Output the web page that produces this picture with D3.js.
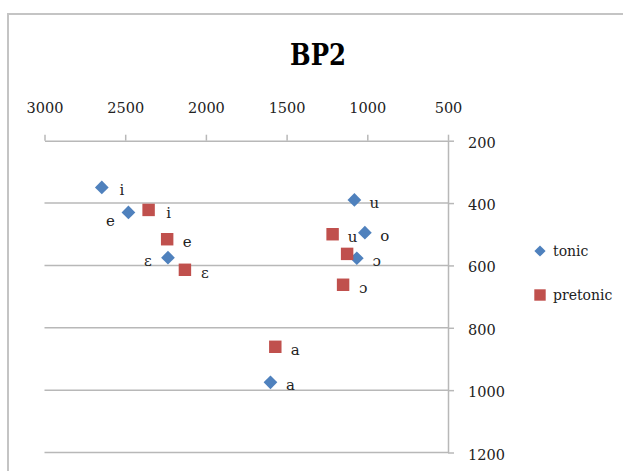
<!DOCTYPE html>
<html>
<head>
<meta charset="utf-8">
<script src="https://cdn.jsdelivr.net/npm/d3@7"></script>
<style>
  body { margin: 0; background: #fff; }
  svg { display: block; font-family: "DejaVu Serif", serif; }
</style>
</head>
<body>
<svg id="chart" width="623" height="471"></svg>
<script>
// vowel formants, F2 on x (reversed), F1 on y (reversed)
var vowels = ["i", "e", "ɛ", "u", "o", "ɔ", "a"];
var tonicF2 = [2645, 2480, 2235, 1080, 1015, 1065, 1600];
var tonicF1 = [350, 430, 575, 390, 495, 577, 975];
var pretonicF2 = [2355, 2240, 2130, 1215, 1125, 1150, 1570];
var pretonicF1 = [422, 516, 614, 500, 563, 662, 861];
// label text shown beside each pretonic point ("" = hidden by overlap)
var pretonicLabels = ["i", "e", "ɛ", "u", "", "ɔ", "a"];
var xTicks = [3000, 2500, 2000, 1500, 1000, 500];
var yTicks = [200, 400, 600, 800, 1000, 1200];
var seriesNames = ["tonic", "pretonic"];

var blue = "#4f81bd", red = "#c0504d", grid = "#b8b8b8";

var svg = d3.select("#chart");

// outer chart border
svg.append("rect")
  .attr("x", 8).attr("y", 14)
  .attr("width", 640).attr("height", 480)
  .attr("fill", "none")
  .attr("stroke", "#c4c4c4")
  .attr("stroke-width", 2);

svg.append("text")
  .attr("x", 318).attr("y", 65)
  .attr("text-anchor", "middle")
  .attr("font-size", 29)
  .attr("font-weight", "bold")
  .attr("textLength", 56)
  .attr("lengthAdjust", "spacingAndGlyphs")
  .text("BP2");

var x = d3.scaleLinear().domain([3000, 500]).range([44.5, 448]);
var y = d3.scaleLinear().domain([200, 1200]).range([140.7, 452.5]);

// horizontal gridlines
svg.append("g")
  .selectAll("line")
  .data(yTicks.slice(1))
  .join("line")
  .attr("x1", x(3000)).attr("x2", x(500))
  .attr("y1", d => y(d)).attr("y2", d => y(d))
  .attr("stroke", grid)
  .attr("stroke-width", 1.5);

// top axis
var xAxis = svg.append("g")
  .attr("transform", "translate(0," + y(200) + ")")
  .call(d3.axisTop(x).tickValues(xTicks).tickFormat(d3.format("d"))
    .tickSize(6).tickSizeOuter(0).tickPadding(22));

// right axis
var yAxis = svg.append("g")
  .attr("transform", "translate(" + x(500) + ",0)")
  .call(d3.axisRight(y).tickValues(yTicks).tickFormat(d3.format("d"))
    .tickSize(6).tickSizeOuter(0).tickPadding(14));

[xAxis, yAxis].forEach(function (g) {
  g.select(".domain").attr("stroke", grid).attr("stroke-width", 1.5);
  g.selectAll(".tick line").attr("stroke", grid).attr("stroke-width", 1.5);
  g.selectAll(".tick text")
    .attr("font-family", "DejaVu Serif")
    .attr("font-size", 14.5)
    .attr("fill", "#222");
});
yAxis.selectAll(".tick text").attr("dy", "0.45em");

var diamond = d3.symbol().type(d3.symbolDiamond2).size(120);
var square = d3.symbol().type(d3.symbolSquare).size(155);

var tonic = vowels.map((v, i) => ({ label: v, f2: tonicF2[i], f1: tonicF1[i] }));
var pretonic = vowels.map((v, i) => ({ label: pretonicLabels[i], f2: pretonicF2[i], f1: pretonicF1[i] }));

svg.append("g")
  .selectAll("path")
  .data(tonic)
  .join("path")
  .attr("d", diamond)
  .attr("fill", blue)
  .attr("transform", d => "translate(" + x(d.f2) + "," + y(d.f1) + ")");

svg.append("g")
  .selectAll("path")
  .data(pretonic)
  .join("path")
  .attr("d", square)
  .attr("fill", red)
  .attr("transform", d => "translate(" + x(d.f2) + "," + y(d.f1) + ")");

// tonic e and ɛ labels were moved to the left in the original
var leftLabels = { "e": [-18, 14], "ɛ": [-20, 8] };

function addLabels(data, isTonic) {
  svg.append("g")
    .selectAll("text")
    .data(data)
    .join("text")
    .attr("x", d => x(d.f2) + (isTonic && leftLabels[d.label] ? leftLabels[d.label][0] : 20))
    .attr("y", d => y(d.f1) + (isTonic && leftLabels[d.label] ? leftLabels[d.label][1] : 8))
    .attr("text-anchor", "middle")
    .attr("font-size", 15)
    .attr("fill", "#222")
    .text(d => d.label);
}
addLabels(tonic, true);
addLabels(pretonic, false);

// legend
var legend = svg.append("g")
  .selectAll("g")
  .data(seriesNames)
  .join("g")
  .attr("transform", (d, i) => "translate(540," + (251 + i * 44) + ")");
legend.append("path")
  .attr("d", (d, i) => i === 0 ? d3.symbol().type(d3.symbolDiamond2).size(80)() : d3.symbol().type(d3.symbolSquare).size(130)())
  .attr("fill", (d, i) => i === 0 ? blue : red);
legend.append("text")
  .attr("x", 13).attr("y", 5)
  .attr("font-size", 14)
  .attr("fill", "#222")
  .text(d => d);
</script>
</body>
</html>
